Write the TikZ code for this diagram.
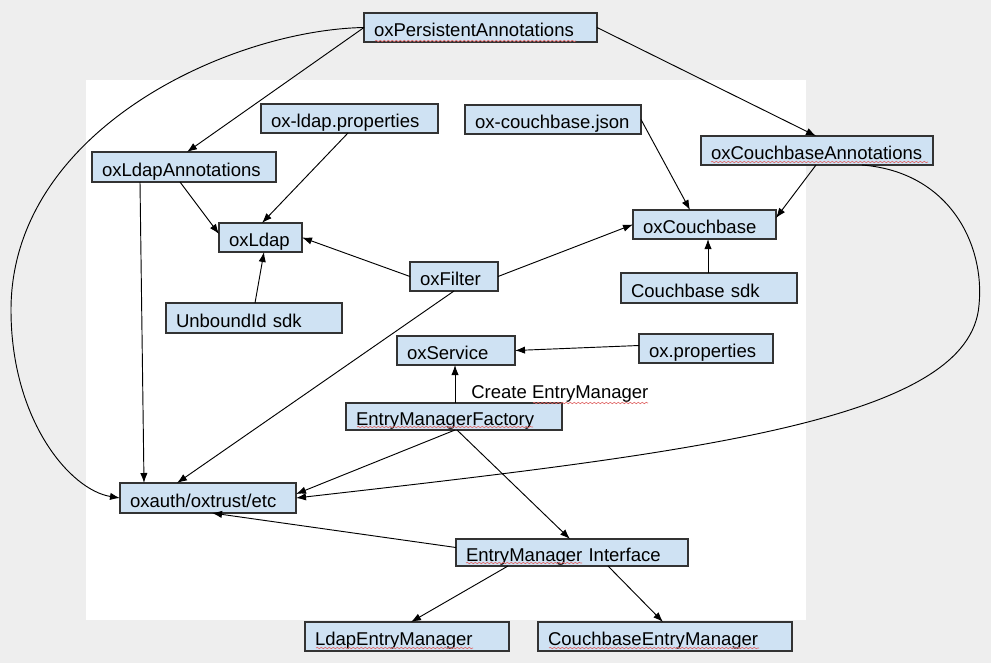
\documentclass[tikz,border=0pt]{standalone}
\usepackage{fontspec}
\setmainfont{Liberation Sans}
\usetikzlibrary{arrows.meta,calc,decorations.pathmorphing}
\definecolor{bggray}{HTML}{EEEEEE}
\definecolor{boxfill}{HTML}{CFE2F3}
\definecolor{boxline}{HTML}{333333}
\definecolor{squigred}{HTML}{E06666}
\newcommand\bx[6]{\node[bx, anchor=north west, minimum width={(#4-#2)*0.75pt}, minimum height={(#5-#3)*0.75pt}, text width={(#4-#2-20)*0.75pt}] (#1) at (#2,#3) {#6};}
\tikzset{
  bx/.style={draw=boxline, fill=boxfill, line width=0.9pt, inner xsep=7.5pt, inner ysep=0pt, outer sep=0pt, align=left, text height=13.6pt, text depth=0pt, font=\fontsize{13.9}{16}\selectfont},
  conn/.style={draw=black, line width=0.7pt, -{Latex[length=7.5pt,width=5.5pt]}},
  squig/.style={draw=squigred, line width=0.45pt, decorate, decoration={snake, amplitude=0.55pt, segment length=3pt}},
}
\begin{document}
\begin{tikzpicture}[x=0.75pt,y=-0.75pt]
\useasboundingbox (0,0) rectangle (991,663);
\fill[bggray] (0,0) rectangle (991,663);
\fill[white] (86,80) rectangle (806,620);

\bx{pa}{364}{13}{597}{42}{oxPersistentAnnotations}
\bx{la}{92}{152}{276}{182}{oxLdapAnnotations}
\bx{lp}{261}{104}{438}{133}{ox-ldap.properties}
\bx{cj}{465}{105}{641}{134}{ox-couchbase.json}
\bx{ca}{701}{136}{933}{165}{oxCouchbaseAnnotations}
\bx{ol}{219}{223}{302}{252}{oxLdap}
\bx{of}{410}{262}{498}{291}{oxFilter}
\bx{oc}{633}{210}{776}{239}{oxCouchbase}
\bx{ub}{166}{303}{342}{333}{UnboundId sdk}
\bx{cs}{621}{273}{797}{303}{Couchbase sdk}
\bx{os}{397}{336}{515}{365}{oxService}
\bx{op}{639}{334}{773}{363}{ox.properties}
\bx{emf}{346}{403}{562}{430}{EntryManagerFactory}
\bx{ox}{120}{483}{296}{513}{oxauth/oxtrust/etc}
\bx{emi}{456}{539}{688}{566}{EntryManager Interface}
\bx{lem}{305}{622}{509}{651}{LdapEntryManager}
\bx{cem}{538}{622}{792}{651}{CouchbaseEntryManager}
\node[anchor=base west, inner sep=0pt, font=\fontsize{13.9}{16}\selectfont] (lbl) at (471,398.5) {Create EntryManager};

% connectors
\draw[conn] (pa.west) -- ($(la.north west)+(95,0)$);
\draw[conn] (pa.west) .. controls (230,30) and (11,130) .. (11,310) .. controls (11,420) and (70,490) .. (ox.west);
\draw[conn] (pa.east) -- ($(ca.north west)+(115,0)$);
\draw[conn] ($(lp.south west)+(87,0)$) -- ($(ol.north west)+(43,0)$);
\draw[conn] ($(la.south west)+(88,0)$) -- ($(ol.north west)+(0,11)$);
\draw[conn] ($(la.south west)+(48,0)$) -- ($(ox.north west)+(24,0)$);
\draw[conn] ($(ub.north west)+(89,0)$) -- ($(ol.south west)+(45,0)$);
\draw[conn] (of.west) -- (ol.east);
\draw[conn] (of.east) -- (oc.west);
\draw[conn] ($(of.south west)+(44,0)$) -- ($(ox.north west)+(57,0)$);
\draw[conn] (cj.east) -- ($(oc.north west)+(57,0)$);
\draw[conn] ($(ca.south west)+(115,0)$) -- ($(oc.north east)+(0,8)$);
\draw[conn] ($(cs.north west)+(87,0)$) -- ($(oc.south west)+(75,0)$);
\draw[conn] ($(op.west)+(0,-3)$) -- (os.east);
\draw[conn] ($(emf.north west)+(109,0)$) -- ($(os.south west)+(58,0)$);
\draw[conn] ($(emf.south west)+(109,0)$) -- ($(ox.east)+(0,-4)$);
\draw[conn] ($(emf.south west)+(111,0)$) -- ($(emi.north west)+(114,0)$);
\draw[conn] ($(emi.west)+(0,-5)$) -- ($(ox.south west)+(92,0)$);
\draw[conn] ($(emi.south west)+(52,0)$) -- ($(lem.north west)+(106,0)$);
\draw[conn] ($(emi.south west)+(152,0)$) -- ($(cem.north west)+(125,0)$);
\draw[conn] ($(ca.south west)+(161,0)$) .. controls (950,172) and (985,245) .. (979,305) .. controls (970,420) and (700,452) .. (ox.east);

% spell-check underlines
\draw[squig] (375,41) -- (576,41);
\draw[squig] (711,162) -- (928,162);
\draw[squig] (533,403) -- (648,403);
\draw[squig] (357,427) -- (533,427);
\draw[squig] (466,563) -- (582,563);
\draw[squig] (316,648) -- (473,648);
\draw[squig] (549,648) -- (759,648);
\end{tikzpicture}
\end{document}
